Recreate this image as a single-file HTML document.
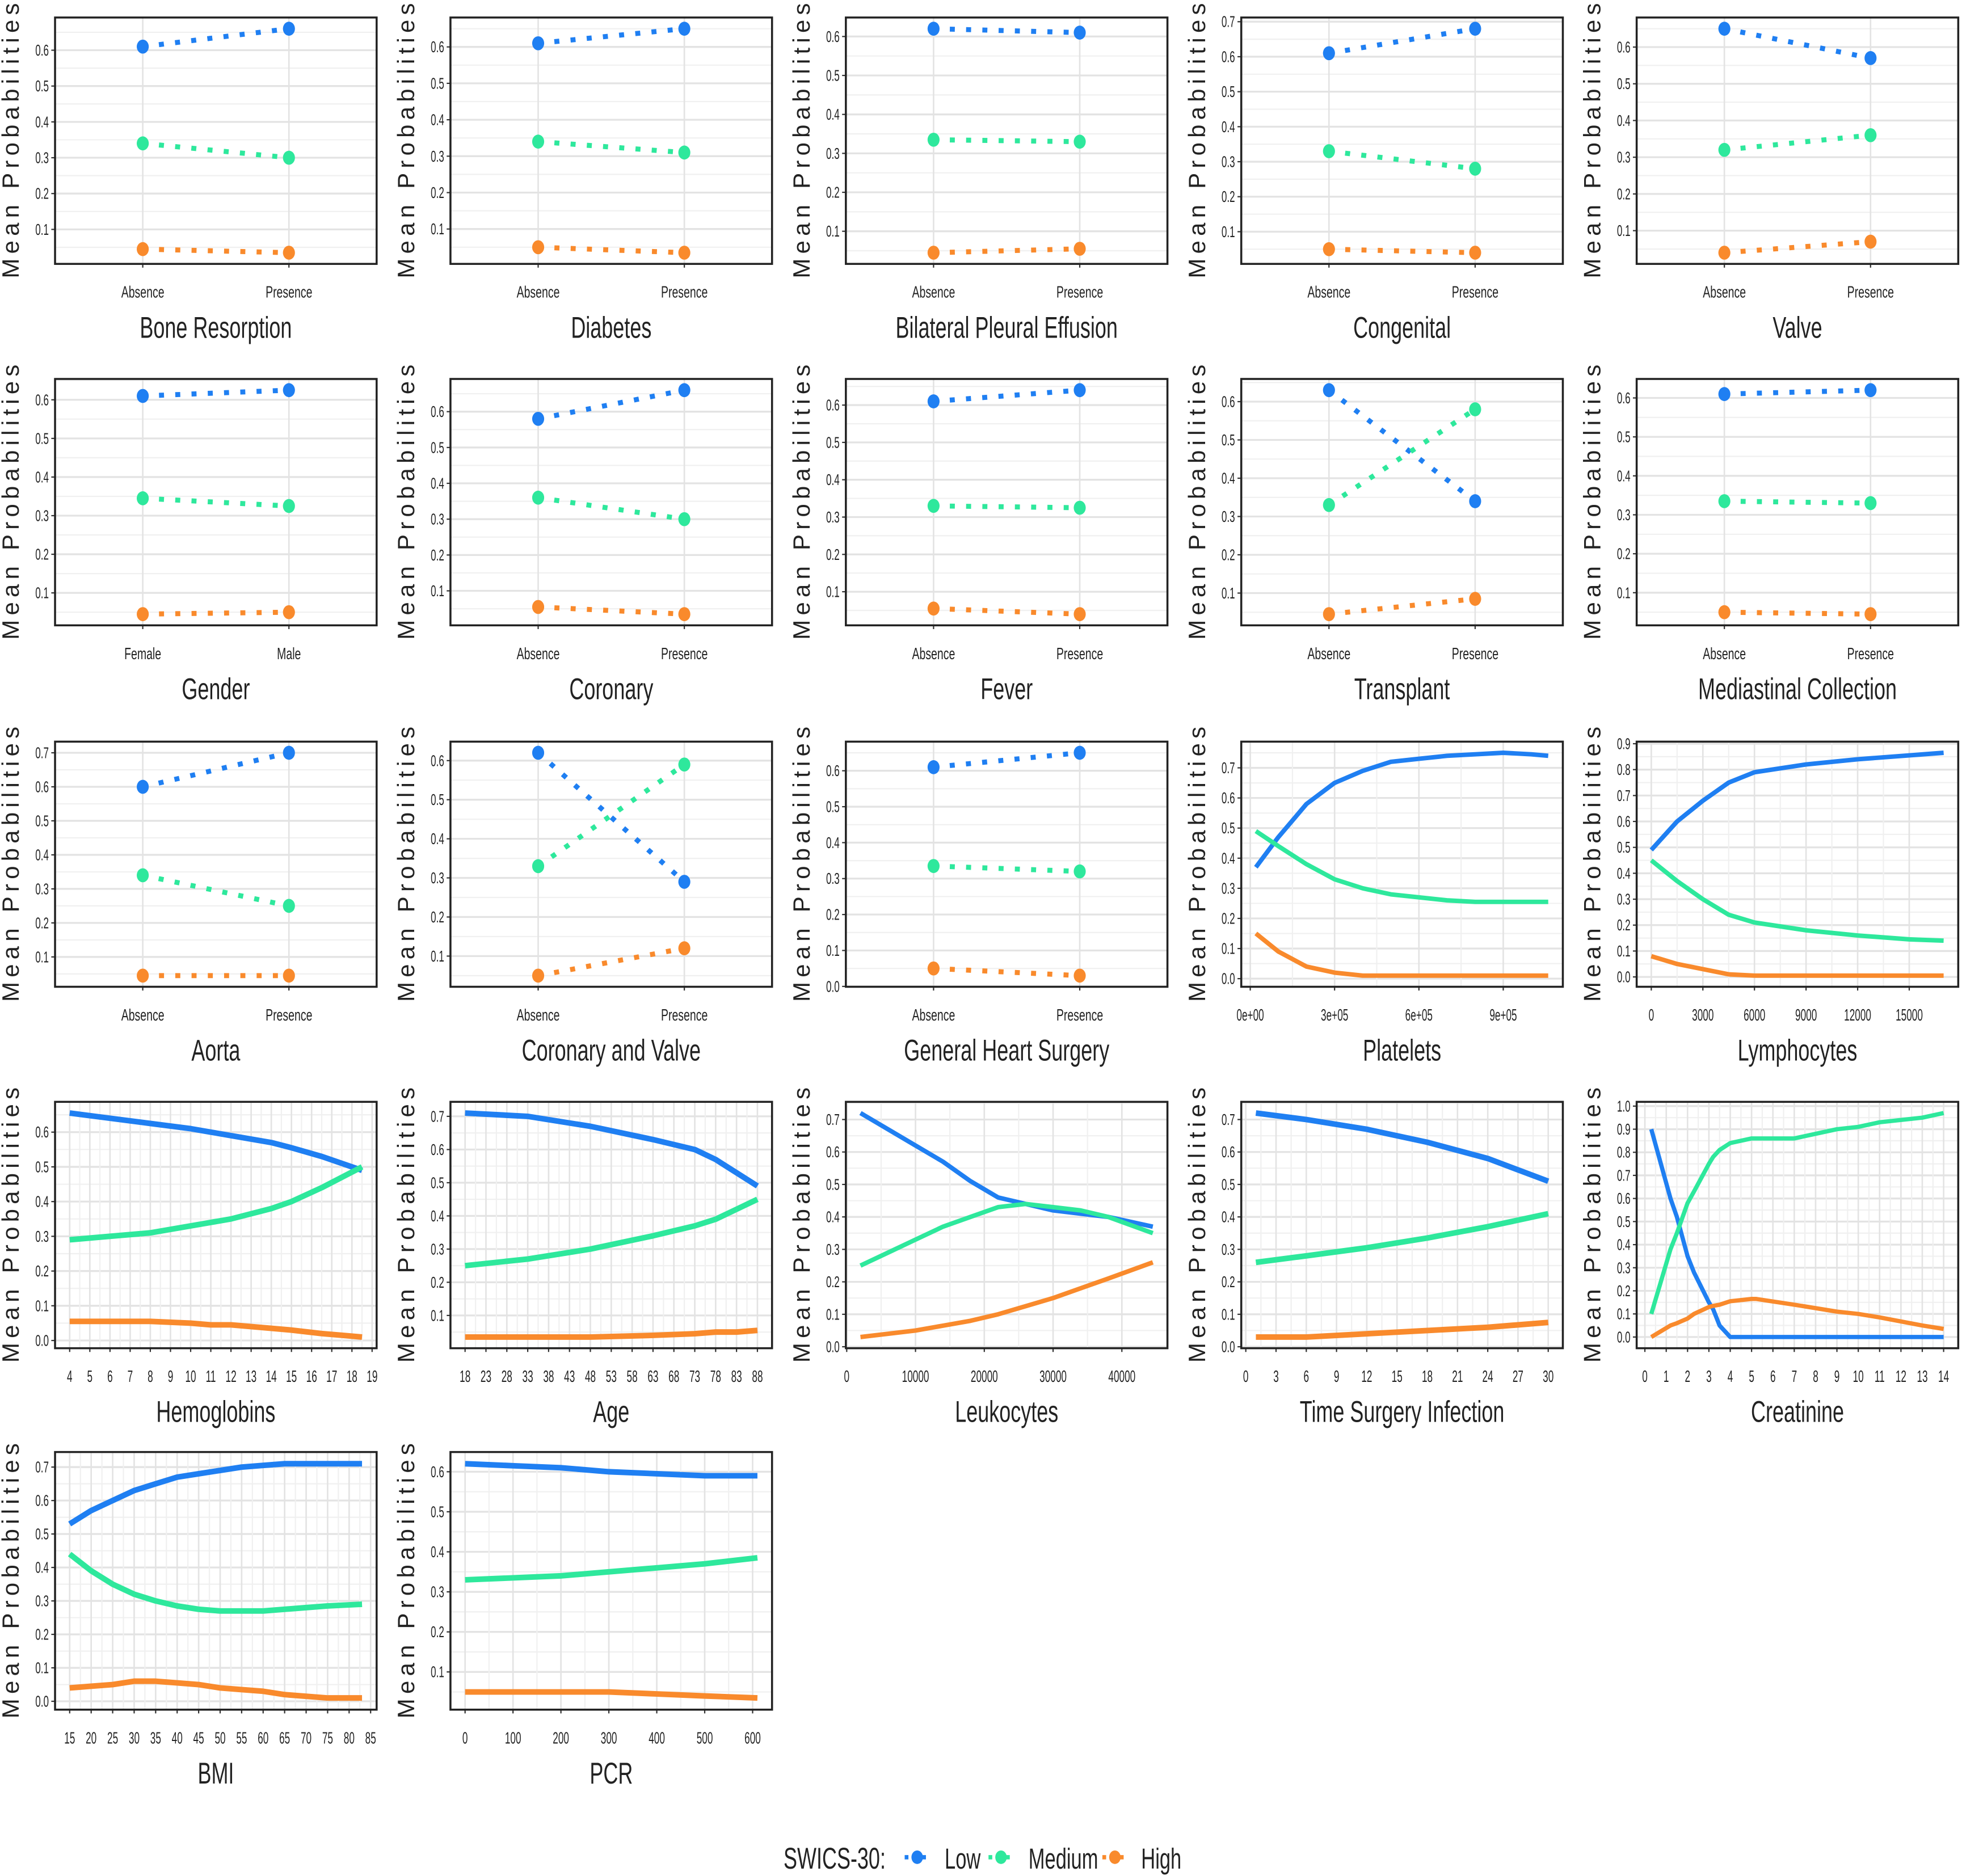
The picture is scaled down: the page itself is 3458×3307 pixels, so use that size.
<!DOCTYPE html>
<html><head><meta charset="utf-8"><title>SWICS-30 Mean Probabilities</title>
<style>html,body{margin:0;padding:0;background:#fff}svg{display:block}text{font-family:"Liberation Sans",sans-serif;fill:#222}</style>
</head><body>
<svg id="chart" width="3458" height="3307" viewBox="0 0 1568 1500" preserveAspectRatio="none" xmlns="http://www.w3.org/2000/svg"></svg>
<script>
// ---- data ----
const absPres = ['Absence','Presence'];
const femMale = ['Female','Male'];
const boneLow=[0.61,0.66], boneMed=[0.34,0.30], boneHigh=[0.045,0.035];
const diabLow=[0.61,0.65], diabMed=[0.34,0.31], diabHigh=[0.05,0.035];
const bpeLow=[0.62,0.61], bpeMed=[0.335,0.33], bpeHigh=[0.045,0.055];
const congLow=[0.61,0.68], congMed=[0.33,0.28], congHigh=[0.05,0.04];
const valveLow=[0.65,0.57], valveMed=[0.32,0.36], valveHigh=[0.04,0.07];
const genderLow=[0.61,0.625], genderMed=[0.345,0.325], genderHigh=[0.045,0.05];
const coronLow=[0.58,0.66], coronMed=[0.36,0.30], coronHigh=[0.055,0.035];
const feverLow=[0.61,0.64], feverMed=[0.33,0.325], feverHigh=[0.055,0.04];
const transLow=[0.63,0.34], transMed=[0.33,0.58], transHigh=[0.045,0.085];
const mediaLow=[0.61,0.62], mediaMed=[0.335,0.33], mediaHigh=[0.05,0.045];
const aortaLow=[0.60,0.70], aortaMed=[0.34,0.25], aortaHigh=[0.045,0.045];
const cvLow=[0.62,0.29], cvMed=[0.33,0.59], cvHigh=[0.05,0.12];
const ghsLow=[0.61,0.65], ghsMed=[0.335,0.32], ghsHigh=[0.05,0.03];

const platX=[20000,100000,200000,300000,400000,500000,600000,700000,800000,900000,1000000,1060000];
const platLow=[0.37,0.47,0.58,0.65,0.69,0.72,0.73,0.74,0.745,0.75,0.745,0.74];
const platMed=[0.49,0.44,0.38,0.33,0.30,0.28,0.27,0.26,0.255,0.255,0.255,0.255];
const platHigh=[0.15,0.09,0.04,0.02,0.01,0.01,0.01,0.01,0.01,0.01,0.01,0.01];
const platTicks=[0,300000,600000,900000], platTickLabels=['0e+00','3e+05','6e+05','9e+05'];

const lymX=[0,1500,3000,4500,6000,9000,12000,15000,17000];
const lymLow=[0.49,0.60,0.68,0.75,0.79,0.82,0.84,0.855,0.865];
const lymMed=[0.45,0.37,0.30,0.24,0.21,0.18,0.16,0.145,0.14];
const lymHigh=[0.08,0.05,0.03,0.01,0.005,0.005,0.005,0.005,0.005];
const lymTicks=[0,3000,6000,9000,12000,15000];

const hemX=[4,6,8,10,11,12,14,15,16.5,17.5,18.5];
const hemLow=[0.655,0.64,0.625,0.61,0.60,0.59,0.57,0.555,0.53,0.51,0.49];
const hemMed=[0.29,0.30,0.31,0.33,0.34,0.35,0.38,0.40,0.44,0.47,0.50];
const hemHigh=[0.055,0.055,0.055,0.05,0.045,0.045,0.035,0.03,0.02,0.015,0.01];
const hemTicks=[4,5,6,7,8,9,10,11,12,13,14,15,16,17,18,19];

const ageX=[18,33,48,63,73,78,83,88];
const ageLow=[0.71,0.70,0.67,0.63,0.60,0.57,0.53,0.49];
const ageMed=[0.25,0.27,0.30,0.34,0.37,0.39,0.42,0.45];
const ageHigh=[0.035,0.035,0.035,0.04,0.045,0.05,0.05,0.055];
const ageTicks=[18,23,28,33,38,43,48,53,58,63,68,73,78,83,88];

const leuX=[2000,6000,10000,14000,18000,22000,26000,30000,34000,38000,44500];
const leuLow=[0.72,0.67,0.62,0.57,0.51,0.46,0.44,0.42,0.41,0.40,0.37];
const leuMed=[0.25,0.29,0.33,0.37,0.40,0.43,0.44,0.43,0.42,0.40,0.35];
const leuHigh=[0.03,0.04,0.05,0.065,0.08,0.10,0.125,0.15,0.18,0.21,0.26];
const leuTicks=[0,10000,20000,30000,40000];

const tsiX=[1,6,12,18,24,30];
const tsiLow=[0.72,0.70,0.67,0.63,0.58,0.51];
const tsiMed=[0.26,0.28,0.305,0.335,0.37,0.41];
const tsiHigh=[0.03,0.03,0.04,0.05,0.06,0.075];
const tsiTicks=[0,3,6,9,12,15,18,21,24,27,30];

const creX=[0.3,1.2,1.5,2,2.3,3,3.2,3.5,4,5,5.2,7,9,10,11,13,14];
const creLow=[0.90,0.60,0.52,0.35,0.28,0.15,0.12,0.05,0.0,0.0,0.0,0.0,0.0,0.0,0.0,0.0,0.0];
const creMed=[0.10,0.38,0.45,0.58,0.63,0.75,0.78,0.81,0.84,0.86,0.86,0.86,0.90,0.91,0.93,0.95,0.97];
const creHigh=[0.0,0.05,0.06,0.08,0.10,0.13,0.135,0.14,0.155,0.165,0.165,0.14,0.11,0.10,0.085,0.05,0.035];
const creTicks=[0,1,2,3,4,5,6,7,8,9,10,11,12,13,14];

const bmiX=[15,20,25,30,35,40,45,50,55,60,65,70,75,83];
const bmiLow=[0.53,0.57,0.60,0.63,0.65,0.67,0.68,0.69,0.70,0.705,0.71,0.71,0.71,0.71];
const bmiMed=[0.44,0.39,0.35,0.32,0.30,0.285,0.275,0.27,0.27,0.27,0.275,0.28,0.285,0.29];
const bmiHigh=[0.04,0.045,0.05,0.06,0.06,0.055,0.05,0.04,0.035,0.03,0.02,0.015,0.01,0.01];
const bmiTicks=[15,20,25,30,35,40,45,50,55,60,65,70,75,80,85];

const pcrX=[0,100,200,300,400,500,610];
const pcrLow=[0.62,0.615,0.61,0.60,0.595,0.59,0.59];
const pcrMed=[0.33,0.335,0.34,0.35,0.36,0.37,0.385];
const pcrHigh=[0.05,0.05,0.05,0.05,0.045,0.04,0.035];
const pcrTicks=[0,100,200,300,400,500,600];

const seriesNames=['Low','Medium','High'];
const seriesColors=['#1f7ff2','#2ee89c','#f98a2c'];

// ---- drawing ----
const NS='http://www.w3.org/2000/svg';
const svg=document.getElementById('chart');
function mk(tag,attrs,parent){const e=document.createElementNS(NS,tag);for(const k in attrs)e.setAttribute(k,attrs[k]);(parent||svg).appendChild(e);return e;}
function txt(x,y,s,size,anchor,sx,parent){const t=mk('text',{x:0,y:0,'font-size':size,'text-anchor':anchor,transform:`translate(${x},${y}) scale(${sx},1)`},parent);t.textContent=s;return t;}

const colX=[44,360,676,992,1308], W=257;
const rowY=[14,303,593,881,1161], rowH=[197,197,196,197,206];

const panels=[
 {r:0,c:0,title:'Bone Resorption',cats:absPres,L:boneLow,M:boneMed,H:boneHigh},
 {r:0,c:1,title:'Diabetes',cats:absPres,L:diabLow,M:diabMed,H:diabHigh},
 {r:0,c:2,title:'Bilateral Pleural Effusion',cats:absPres,L:bpeLow,M:bpeMed,H:bpeHigh},
 {r:0,c:3,title:'Congenital',cats:absPres,L:congLow,M:congMed,H:congHigh},
 {r:0,c:4,title:'Valve',cats:absPres,L:valveLow,M:valveMed,H:valveHigh},
 {r:1,c:0,title:'Gender',cats:femMale,L:genderLow,M:genderMed,H:genderHigh},
 {r:1,c:1,title:'Coronary',cats:absPres,L:coronLow,M:coronMed,H:coronHigh},
 {r:1,c:2,title:'Fever',cats:absPres,L:feverLow,M:feverMed,H:feverHigh},
 {r:1,c:3,title:'Transplant',cats:absPres,L:transLow,M:transMed,H:transHigh},
 {r:1,c:4,title:'Mediastinal Collection',cats:absPres,L:mediaLow,M:mediaMed,H:mediaHigh},
 {r:2,c:0,title:'Aorta',cats:absPres,L:aortaLow,M:aortaMed,H:aortaHigh},
 {r:2,c:1,title:'Coronary and Valve',cats:absPres,L:cvLow,M:cvMed,H:cvHigh},
 {r:2,c:2,title:'General Heart Surgery',cats:absPres,L:ghsLow,M:ghsMed,H:ghsHigh},
 {r:2,c:3,title:'Platelets',xs:platX,ticks:platTicks,tickLabels:platTickLabels,L:platLow,M:platMed,H:platHigh,lw:3.6},
 {r:2,c:4,title:'Lymphocytes',xs:lymX,ticks:lymTicks,L:lymLow,M:lymMed,H:lymHigh,lw:3.6},
 {r:3,c:0,title:'Hemoglobins',xs:hemX,ticks:hemTicks,L:hemLow,M:hemMed,H:hemHigh,lw:4.5},
 {r:3,c:1,title:'Age',xs:ageX,ticks:ageTicks,L:ageLow,M:ageMed,H:ageHigh,lw:4.5},
 {r:3,c:2,title:'Leukocytes',xs:leuX,ticks:leuTicks,L:leuLow,M:leuMed,H:leuHigh,lw:3.6},
 {r:3,c:3,title:'Time Surgery Infection',xs:tsiX,ticks:tsiTicks,L:tsiLow,M:tsiMed,H:tsiHigh,lw:4.5},
 {r:3,c:4,title:'Creatinine',xs:creX,ticks:creTicks,L:creLow,M:creMed,H:creHigh,lw:3.4},
 {r:4,c:0,title:'BMI',xs:bmiX,ticks:bmiTicks,L:bmiLow,M:bmiMed,H:bmiHigh,lw:4.5},
 {r:4,c:1,title:'PCR',xs:pcrX,ticks:pcrTicks,L:pcrLow,M:pcrMed,H:pcrHigh,lw:4.5},
];

panels.forEach((p,i)=>{
  const x0=colX[p.c], y0=rowY[p.r], h=rowH[p.r], x1=x0+W, y1=y0+h;
  const slug=p.title.toLowerCase().replace(/[^a-z]+/g,'-');
  const g=mk('g',{});
  
  
  const all=[...p.L,...p.M,...p.H];
  let ymin=Math.min(...all), ymax=Math.max(...all); const sp=ymax-ymin; ymin-=sp*0.05; ymax+=sp*0.05;
  const ys=v=>y1-(v-ymin)/(ymax-ymin)*h;
  let xs, xDomMin, xDomMax, xt, xtl;
  if(p.cats){xDomMin=0.4;xDomMax=2.6;xt=[1,2];xtl=p.cats;}
  else{const a=Math.min(...p.xs),b=Math.max(...p.xs),s=b-a;xDomMin=a-s*0.05;xDomMax=b+s*0.05;xt=p.ticks;xtl=p.tickLabels||p.ticks.map(String);}
  xs=v=>x0+(v-xDomMin)/(xDomMax-xDomMin)*W;
  mk('rect',{x:x0,y:y0,width:W,height:h,fill:'#fff'},g);
  const yt=[];for(let k=0;k<=10;k++){const v=k/10;if(v>=ymin-1e-9&&v<=ymax+1e-9)yt.push(v);}
  for(let k=0;k<=10;k++){const v=k/10+0.05;if(v>ymin&&v<ymax)mk('line',{x1:x0,x2:x1,y1:ys(v),y2:ys(v),stroke:'#f0f0f0','stroke-width':1},g);}
  yt.forEach(v=>{mk('line',{x1:x0,x2:x1,y1:ys(v),y2:ys(v),stroke:'#e3e3e3','stroke-width':1.5},g);
    mk('line',{x1:x0-3,x2:x0,y1:ys(v),y2:ys(v),stroke:'#333','stroke-width':1},g);
    const t=txt(x0-5,ys(v)+4.3,v.toFixed(1),12.5,'end',0.62,g);
    
    });
  if(!p.cats){for(let k=0;k<xt.length-1;k++){const v=(xt[k]+xt[k+1])/2;mk('line',{x1:xs(v),x2:xs(v),y1:y0,y2:y1,stroke:'#f0f0f0','stroke-width':1},g);}}
  xt.forEach((v,k)=>{const X=xs(v);mk('line',{x1:X,x2:X,y1:y0,y2:y1,stroke:'#e3e3e3','stroke-width':1.2},g);
    mk('line',{x1:X,x2:X,y1:y1,y2:y1+3,stroke:'#333','stroke-width':1},g);
    const t=txt(X,y1+27,xtl[k],13,'middle',p.cats?0.68:0.6,g);
    
    });
  [p.L,p.M,p.H].forEach((vals,si)=>{
    const col=seriesColors[si];
    if(p.cats){
      const l=mk('line',{x1:xs(1),y1:ys(vals[0]),x2:xs(2),y2:ys(vals[1]),stroke:col,'stroke-width':4,'stroke-dasharray':'4 9'},g);
      
      
      vals.forEach((v,k)=>{const c=mk('ellipse',{cx:xs(k+1),cy:ys(v),rx:4.8,ry:5.6,fill:col},g);
        
        });
    } else {
      const d=vals.map((v,k)=>(k?'L':'M')+xs(p.xs[k]).toFixed(2)+','+ys(v).toFixed(2)).join(' ');
      const pa=mk('path',{d:d,fill:'none',stroke:col,'stroke-width':p.lw,'stroke-linejoin':'round'},g);
      
      
    }
  });
  mk('rect',{x:x0,y:y0,width:W,height:h,fill:'none',stroke:'#222','stroke-width':1.6},g);
  const tt=txt(x0+W/2,y1+59,p.title,24,'middle',0.68,g);
  
  
  const yx = x0>44 ? x0-29 : 15;
  const ya=mk('text',{x:0,y:0,'font-size':19,'text-anchor':'middle',textLength:220,lengthAdjust:'spacing',transform:`translate(${yx},${y0+h/2}) rotate(-90)`},g);
  ya.textContent='Mean Probabilities';
  
  
});

const lg=mk('g',{});


const lt=txt(667,1494,'SWICS-30:',24,'middle',0.68,lg);


const legX=[733,800,891], legTX=[755,822,912];
seriesNames.forEach((n,i)=>{
  const e=mk('g',{},lg);
  
  
  mk('line',{x1:legX[i]-10,x2:legX[i]+10,y1:1485,y2:1485,stroke:seriesColors[i],'stroke-width':3.5,'stroke-dasharray':'3 4'},e);
  mk('ellipse',{cx:legX[i],cy:1485,rx:4.6,ry:5.4,fill:seriesColors[i]},e);
  txt(legTX[i],1494,n,23,'start',0.68,e);
});
</script>
</body></html>
